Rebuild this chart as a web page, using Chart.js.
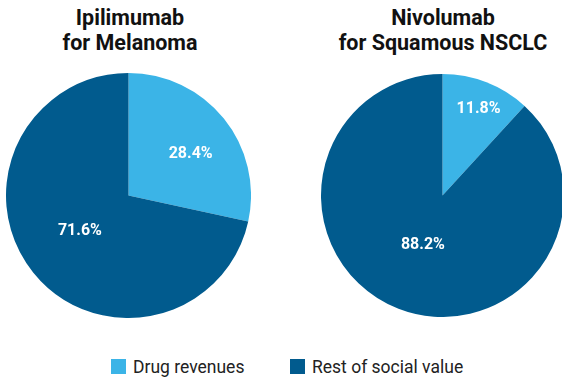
<!DOCTYPE html>
<html><head><meta charset="utf-8">
<script src="https://cdn.jsdelivr.net/npm/chart.js@4"></script>
<style>
html,body{margin:0;padding:0;width:562px;height:378px;overflow:hidden;background:#fff;font-family:Roboto,"Noto Sans",sans-serif;}
.title{position:absolute;top:5px;text-align:center;font-weight:700;font-size:21.5px;line-height:25px;color:#111;}
.wrap{position:absolute;}
#legend{position:absolute;top:358px;left:0;width:562px;height:20px;}
.li{position:absolute;top:0;font-size:17.5px;line-height:18px;color:#222;}
.sw{position:absolute;top:1px;width:15px;height:15px;}
</style></head>
<body>
<div class="title" id="t1" style="left:0;width:260px;"></div>
<div class="title" id="t2" style="left:300px;width:286px;"></div>
<div class="wrap" style="left:6px;top:73px;width:245px;height:245px;"><canvas id="c1"></canvas></div>
<div class="wrap" style="left:321px;top:74px;width:243px;height:243px;"><canvas id="c2"></canvas></div>
<div id="legend"></div>
<script>
const categories = ["Drug revenues", "Rest of social value"];
const titleIpi = ["Ipilimumab", "for Melanoma"];
const titleNivo = ["Nivolumab", "for Squamous NSCLC"];
const valuesIpi = [28.4, 71.6];
const valuesNivo = [11.8, 88.2];
const colors = ["#3BB4E7", "#015B8E"];

document.getElementById('t1').innerHTML = titleIpi.join('<br>');
document.getElementById('t2').innerHTML = titleNivo.join('<br>');

const lg = document.getElementById('legend');
const legendX = [111, 290];
categories.forEach((c,i)=>{
  const sw = document.createElement('div'); sw.className='sw';
  sw.style.left = legendX[i]+'px'; sw.style.background = colors[i]; lg.appendChild(sw);
  const t = document.createElement('div'); t.className='li';
  t.style.left = (legendX[i]+22)+'px'; t.textContent = c; lg.appendChild(t);
});

const labelPlugin = {
  id:'sliceLabels',
  afterDatasetsDraw(chart, args, opts){
    const ctx = chart.ctx;
    const meta = chart.getDatasetMeta(0);
    ctx.save();
    ctx.fillStyle = '#fff';
    ctx.font = 'bold 16px Roboto, sans-serif';
    ctx.textAlign = 'center'; ctx.textBaseline = 'middle';
    meta.data.forEach((arc,i)=>{
      const p = arc.getProps(['x','y','startAngle','endAngle','outerRadius'], true);
      const mid = (p.startAngle + p.endAngle)/2 + (opts.shift ? opts.shift[i] : 0);
      const r = p.outerRadius * opts.frac[i];
      const v = chart.data.datasets[0].data[i];
      ctx.fillText(v.toFixed(1)+'%', p.x + Math.cos(mid)*r, p.y + Math.sin(mid)*r);
    });
    ctx.restore();
  }
};

function makePie(id, vals, frac, shift){
  new Chart(document.getElementById(id), {
    type:'pie',
    data:{labels:categories, datasets:[{data:vals, backgroundColor:colors, borderWidth:0}]},
    options:{
      responsive:true, maintainAspectRatio:false, animation:false,
      layout:{padding:0},
      plugins:{legend:{display:false}, tooltip:{enabled:false},
        sliceLabels:{frac:frac, shift:shift}}
    },
    plugins:[labelPlugin]
  });
}
makePie('c1', valuesIpi, [0.61, 0.49], [0.09, 0.05]);
makePie('c2', valuesNivo, [0.77, 0.44], [0.025, 0.005]);
</script>
</body></html>
